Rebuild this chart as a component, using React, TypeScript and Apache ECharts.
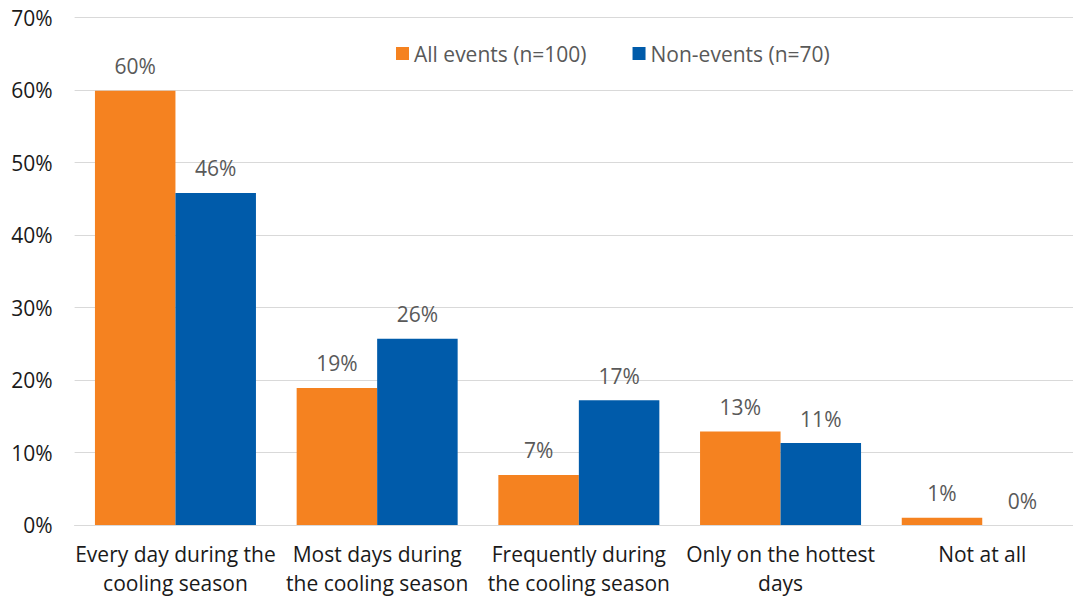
import React, { useEffect, useRef } from "react";
import * as echarts from "echarts";

const categories = [
  "Every day during the\ncooling season",
  "Most days during\nthe cooling season",
  "Frequently during\nthe cooling season",
  "Only on the hottest\ndays",
  "Not at all",
];
const allEvents = [59.9, 18.9, 6.9, 12.9, 1.0];
const nonEvents = [45.8, 25.7, 17.2, 11.3, 0];
const yTicks = [0, 10, 20, 30, 40, 50, 60, 70];

const FONT = "Open Sans";

export default function App() {
  const ref = useRef<HTMLDivElement>(null);
  useEffect(() => {
    if (!ref.current) return;
    const chart = echarts.init(ref.current, null, { renderer: "svg" });
    const label = {
      show: true,
      position: "top" as const,
      distance: 14,
      color: "#595959",
      fontSize: 21,
      fontFamily: FONT,
      formatter: (p: any) => Math.round(p.value) + "%",
    };
    chart.setOption({
      animation: false,
      textStyle: { fontFamily: FONT },
      legend: {
        top: 38,
        left: 391,
        itemWidth: 13,
        itemHeight: 13,
        itemGap: 46,
        icon: "rect",
        textStyle: { fontSize: 21, color: "#595959", fontFamily: FONT },
        data: ["All events (n=100)", "Non-events (n=70)"],
      },
      grid: { left: 74.6, width: 1008.5, top: 17.5, bottom: 72, containLabel: false },
      xAxis: {
        type: "category",
        data: categories,
        axisTick: { show: false },
        axisLine: { lineStyle: { color: "#d9d9d9", width: 1 } },
        axisLabel: {
          color: "#1a1a1a",
          fontSize: 21,
          lineHeight: 29,
          margin: 14,
          fontFamily: FONT,
          interval: 0,
        },
      },
      yAxis: {
        type: "value",
        min: yTicks[0],
        max: yTicks[yTicks.length - 1],
        interval: 10,
        axisLabel: {
          formatter: (v: number) => v + "%",
          color: "#1a1a1a",
          fontSize: 21,
          margin: 22,
          fontFamily: FONT,
        },
        splitLine: { lineStyle: { color: "#d9d9d9", width: 1 } },
        axisLine: { show: false },
        axisTick: { show: false },
      },
      series: [
        {
          name: "All events (n=100)",
          type: "bar",
          data: allEvents,
          itemStyle: { color: "#F58220" },
          barWidth: 80.5,
          barGap: "0%",
          label,
        },
        {
          name: "Non-events (n=70)",
          type: "bar",
          data: nonEvents,
          itemStyle: { color: "#005BAA" },
          barWidth: 80.5,
          label,
        },
      ],
    });
    return () => chart.dispose();
  }, []);
  return (
    <div
      style={{ position: "fixed", left: 0, top: 0, width: 1073, height: 597, overflow: "hidden", background: "#fff" }}
    >
      <div ref={ref} style={{ width: 1100, height: 597 }} />
    </div>
  );
}
